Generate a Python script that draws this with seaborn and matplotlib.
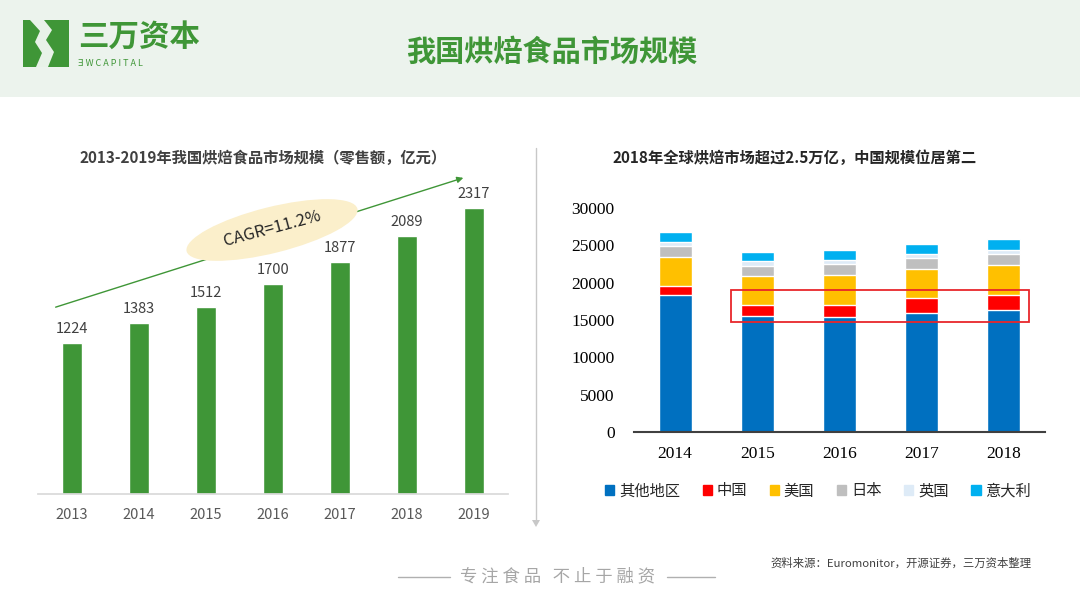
import numpy as np
import pandas as pd
import seaborn as sns
import matplotlib.pyplot as plt
from matplotlib.patches import Ellipse, Rectangle, Patch, Polygon

# 左图：我国烘焙食品市场规模（亿元）
years_cn = ['2013', '2014', '2015', '2016', '2017', '2018', '2019']
sales_cn = [1224, 1383, 1512, 1700, 1877, 2089, 2317]

# 右图：全球烘焙市场构成（亿元）
years_world = ['2014', '2015', '2016', '2017', '2018']
regions = ['其他地区', '中国', '美国', '日本', '英国', '意大利']
other = [18300, 15580, 15360, 15940, 16300]
china = [1300, 1430, 1700, 1960, 2100]
usa = [3800, 3880, 3970, 3930, 3970]
japan = [1470, 1380, 1430, 1430, 1430]
uk = [540, 580, 540, 580, 580]
italy = [1340, 1300, 1380, 1380, 1430]
colors_world = ['#0070c0', '#ff0000', '#ffc000', '#bfbfbf', '#deebf7', '#00b0f0']

green = '#3f9637'
W, H = 1080, 608

sns.set_theme(style='white')
plt.rcParams['font.family'] = ['Noto Sans CJK SC', 'DejaVu Sans']

fig = plt.figure(figsize=(W / 100, H / 100), dpi=100)
fig.patch.set_facecolor('white')

# 背景层（像素坐标）
bg = fig.add_axes([0, 0, 1, 1], zorder=0)
bg.set_xlim(0, W)
bg.set_ylim(H, 0)
bg.axis('off')
bg.add_patch(Rectangle((0, 0), W, 97, color='#ecf3ed', lw=0))

# logo
bg.add_patch(Rectangle((23, 20), 46, 47, color=green, lw=0))
wave = [(30, 20), (44, 20), (52, 30), (46, 40), (54, 52), (48, 67), (36, 67), (42, 53),
        (35, 42), (40, 31)]
bg.add_patch(Polygon(wave, closed=True, color='#e8f2e8', lw=0))
bg.text(78, 37, '三万资本', fontsize=22, fontweight='bold', color=green, va='center', ha='left')
bg.text(78, 63, 'Ǝ W C A P I T A L', fontsize=6.5, color=green, va='center', ha='left')

bg.text(552, 52, '我国烘焙食品市场规模', fontsize=21, fontweight='bold', color=green,
        ha='center', va='center')

# 分隔线
bg.plot([536, 536], [148, 522], color='#c8c8c8', lw=1)
bg.add_patch(Polygon([(532, 520), (540, 520), (536, 527)], closed=True, color='#c8c8c8', lw=0))

# 标题
bg.text(263, 158, '2013-2019年我国烘焙食品市场规模（零售额，亿元）', fontsize=11, fontweight='bold',
        color='#404040', ha='center', va='center')
bg.text(795, 158, '2018年全球烘焙市场超过2.5万亿，中国规模位居第二', fontsize=11, fontweight='bold',
        color='#262626', ha='center', va='center')

# CAGR 箭头和椭圆
bg.annotate('', xy=(466, 177), xytext=(53, 308),
            arrowprops=dict(arrowstyle='-|>', color=green, lw=1, mutation_scale=9))
bg.add_patch(Ellipse((272, 230), 176, 46, angle=-14, color='#fbefcb', lw=0, zorder=3))
bg.text(272, 229, 'CAGR=11.2%', fontsize=12, color='#262626', rotation=15,
        ha='center', va='center', zorder=4)

# 底部
bg.plot([398, 450], [577, 577], color='#b0b0b0', lw=1)
bg.plot([667, 715], [577, 577], color='#b0b0b0', lw=1)
bg.text(558, 576, '专 注 食 品   不 止 于 融 资', fontsize=12.5, color='#a6a6a6',
        ha='center', va='center')
bg.text(1032, 563, '资料来源：Euromonitor，开源证券，三万资本整理', fontsize=8.2, color='#404040',
        ha='right', va='center')

# 左图
df_cn = pd.DataFrame({'year': years_cn, 'sales': sales_cn})
ax1 = fig.add_axes([38 / W, 1 - 494 / H, 470 / W, 324 / H], zorder=1)
ax1.patch.set_alpha(0)
sns.barplot(data=df_cn, x='year', y='sales', color=green, saturation=1, width=0.31, ax=ax1)
ax1.set_xlim(-0.507, 6.507)
ax1.set_ylim(0, 2625)
ax1.bar_label(ax1.containers[0], fontsize=10.5, color='#404040', padding=5)
ax1.set_xlabel('')
ax1.set_ylabel('')
ax1.set_yticks([])
for s in ['top', 'right', 'left']:
    ax1.spines[s].set_visible(False)
ax1.spines['bottom'].set_color('#d9d9d9')
ax1.tick_params(axis='x', length=0, pad=10, labelsize=10.5, labelcolor='#595959')

# 右图：堆积柱（累计值从大到小叠画）
layers = [other, china, usa, japan, uk, italy]
cum = np.cumsum(np.array(layers), axis=0)
ax2 = fig.add_axes([634 / W, 1 - 432 / H, 411 / W, 224 / H], zorder=1)
ax2.patch.set_alpha(0)
for i in range(len(regions) - 1, -1, -1):
    d = pd.DataFrame({'year': years_world, 'value': cum[i]})
    sns.barplot(data=d, x='year', y='value', color=colors_world[i], saturation=1,
                width=0.4, ax=ax2)
ax2.set_xlim(-0.5, 4.5)
ax2.set_ylim(0, 30000)
ax2.set_yticks(range(0, 30001, 5000))
ax2.set_xlabel('')
ax2.set_ylabel('')
for s in ['top', 'right', 'left']:
    ax2.spines[s].set_visible(False)
ax2.spines['bottom'].set_color('#404040')
ax2.spines['bottom'].set_linewidth(1.5)
ax2.tick_params(axis='both', length=0, labelsize=12.5, labelcolor='#000000')
ax2.tick_params(axis='x', pad=10)
ax2.tick_params(axis='y', pad=14)
for lab in ax2.get_xticklabels() + ax2.get_yticklabels():
    lab.set_family(['Liberation Serif', 'DejaVu Serif'])

ax2.add_patch(Rectangle((0.68, 14730), 3.62, 4240, fill=False, edgecolor='#e8262b', lw=1.3,
                        zorder=5))

handles = [Patch(color=c, label=r) for c, r in zip(colors_world, regions)]
fig.legend(handles=handles, loc='center', bbox_to_anchor=(818 / W, 1 - 491 / H), ncol=6,
           frameon=False, fontsize=11, handlelength=0.6, handleheight=0.6, handletextpad=0.3,
           columnspacing=1.5)

fig.savefig('out.png', dpi=100)
